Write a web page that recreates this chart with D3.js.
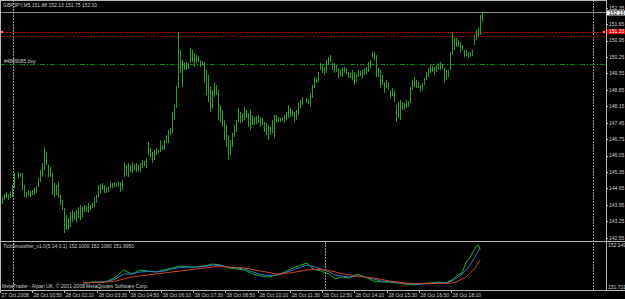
<!DOCTYPE html>
<html>
<head>
<meta charset="utf-8">
<script src="https://cdn.jsdelivr.net/npm/d3@7"></script>
<style>
  html, body { margin: 0; padding: 0; background: #000; }
  svg { display: block; }
  text { font-family: "Liberation Sans", Arial, sans-serif; font-size: 5px; fill: #cfcfcf; }
</style>
</head>
<body>
<div id="chart"></div>
<script>
// GBPJPY M5 bars, first bar 27 Oct 2008 23:30, one bar every 5 minutes
var firstBar = "2008-10-27T23:30";
var barMinutes = 5;

var barHigh = [
  144.16,144.28,144.41,144.50,144.41,144.50,144.80,145.31,145.35,145.31,
  145.31,144.80,144.50,144.58,144.54,144.58,144.67,144.75,145.09,145.43,
  145.73,146.41,146.20,145.65,145.56,145.31,144.88,144.80,144.92,144.37,
  144.16,143.81,143.52,143.39,143.64,143.73,143.64,143.73,143.86,143.94,
  143.86,143.94,143.90,144.03,143.94,144.03,144.28,144.37,144.80,144.84,
  144.88,144.80,144.71,144.75,144.92,144.88,144.92,144.88,144.92,144.92,
  145.01,145.77,145.65,145.73,145.65,145.77,145.69,145.73,145.65,145.73,
  145.86,145.82,145.95,146.63,146.37,146.20,146.29,146.37,146.29,146.71,
  146.50,146.71,146.92,147.14,147.22,147.91,148.20,149.01,151.31,150.55,
  150.12,149.99,150.04,149.99,150.63,150.55,150.42,150.33,150.29,150.12,
  150.08,150.04,149.70,149.48,148.97,148.84,149.18,149.06,148.84,148.20,
  147.99,147.56,147.35,146.92,146.71,147.01,147.35,147.56,148.08,147.91,
  147.86,148.12,147.99,147.86,147.99,147.78,147.69,147.73,147.78,147.69,
  147.65,147.48,147.44,147.35,147.27,147.56,147.78,147.78,147.69,147.65,
  147.69,147.78,147.91,148.20,148.08,147.99,147.91,147.99,148.29,148.42,
  148.55,148.50,148.46,148.72,149.06,149.40,149.35,149.61,149.99,149.91,
  149.82,150.12,150.25,150.33,149.99,149.99,149.91,149.78,149.70,149.78,
  149.82,149.78,149.61,149.57,149.70,149.61,149.52,149.70,149.65,149.70,
  149.78,149.82,150.04,150.12,150.46,150.46,150.33,149.78,149.70,149.48,
  149.18,149.27,149.18,148.84,148.93,148.84,148.20,148.33,148.42,148.33,
  148.29,148.42,148.37,148.97,149.27,149.40,149.27,149.18,149.06,149.14,
  149.35,149.61,149.78,149.91,149.87,149.82,149.91,149.99,150.04,149.95,
  149.78,149.70,149.70,150.46,151.31,151.06,151.06,150.97,150.89,150.76,
  150.55,150.55,150.46,150.46,150.55,151.19,151.40,151.49,152.04,152.13
];
var barLow = [
  143.90,143.99,144.16,144.24,144.16,144.24,144.28,144.67,145.09,145.14,
  144.58,144.28,144.24,144.33,144.28,144.37,144.37,144.45,144.71,144.92,
  145.14,145.43,145.65,145.14,145.14,144.37,144.28,144.37,144.28,143.94,
  143.73,142.75,142.88,142.88,143.00,143.22,143.30,143.22,143.39,143.30,
  143.43,143.64,143.64,143.60,143.73,143.81,143.86,144.03,144.28,144.45,
  144.58,144.45,144.45,144.50,144.67,144.67,144.71,144.71,144.75,144.50,
  144.58,145.14,145.22,145.14,145.35,145.31,145.43,145.35,145.39,145.35,
  145.52,145.60,145.52,146.07,145.95,145.73,145.86,146.07,146.16,146.20,
  146.29,146.29,146.58,146.58,146.92,147.01,147.56,148.08,148.93,149.57,
  148.97,149.70,149.70,149.74,149.99,150.04,149.82,149.99,150.04,149.82,
  149.87,149.18,148.63,148.33,147.91,148.08,148.55,148.63,147.56,147.48,
  147.27,146.71,146.41,145.86,146.07,146.41,146.84,147.05,147.48,147.44,
  147.48,147.56,147.65,147.27,147.14,147.35,147.35,147.39,147.44,147.27,
  147.35,147.05,146.92,146.71,146.92,147.01,146.80,147.44,147.48,147.48,
  147.52,147.44,147.56,147.65,147.69,147.73,147.48,147.56,147.78,148.08,
  148.20,148.29,148.25,148.12,148.50,148.93,149.14,149.18,149.70,149.57,
  149.48,149.57,149.91,150.04,149.70,149.57,149.61,149.35,149.44,149.40,
  149.57,149.52,149.35,149.35,149.27,149.06,149.18,149.40,149.44,149.35,
  149.48,149.52,149.61,149.78,150.21,150.12,149.40,149.40,148.93,149.06,
  148.72,148.93,148.84,148.50,148.59,148.33,147.48,147.65,147.56,147.99,
  147.99,148.08,148.12,148.29,148.84,148.97,148.93,148.93,148.76,148.84,
  149.06,149.27,149.40,149.57,149.61,149.48,149.61,149.70,149.70,149.74,
  149.18,149.27,149.40,149.70,150.33,150.55,150.68,150.68,150.46,150.55,
  150.25,150.29,150.21,150.25,150.29,150.76,150.97,151.10,151.19,151.75
];

// price levels drawn across the chart
var bidPrice = 152.13;
var targetPrice = 151.33;
var stopPrice = 151.14;
var buyPrice = 149.99;
var buyLabel = "#4809085 buy";

var priceTicks = [152.35,151.65,150.95,150.25,149.55,148.85,148.15,147.45,146.75,146.05,145.35,144.65,143.95,143.25,142.55];

var timeTicks = ["2008-10-27T23:30","2008-10-28T00:50","2008-10-28T02:10","2008-10-28T03:30","2008-10-28T04:50",
  "2008-10-28T06:10","2008-10-28T07:30","2008-10-28T08:50","2008-10-28T10:10","2008-10-28T11:30",
  "2008-10-28T12:50","2008-10-28T14:10","2008-10-28T15:30","2008-10-28T16:50","2008-10-28T18:10"];
var timeLabels = ["27 Oct 2008","28 Oct 00:50","28 Oct 02:10","28 Oct 03:30","28 Oct 04:50",
  "28 Oct 06:10","28 Oct 07:30","28 Oct 08:50","28 Oct 10:10","28 Oct 11:30",
  "28 Oct 12:50","28 Oct 14:10","28 Oct 15:30","28 Oct 16:50","28 Oct 18:10"];

// TickSmoother indicator, sampled at bar indexes
var indBars = [41,45,49,53,57,61,65,69,73,77,81,85,89,93,97,101,105,109,113,117,
  121,125,129,133,137,141,145,149,152,155,159,163,166,169,173,177,181,185,189,193,
  197,201,205,209,213,217,221,224,227,229,231,233,235,236,237,238];
var indRaw = [151.775,151.784,151.784,151.794,151.833,151.901,151.862,151.901,151.891,151.882,
  151.901,151.921,151.940,151.930,151.930,151.940,151.959,151.950,151.921,151.911,
  151.901,151.862,151.843,151.833,151.853,151.882,151.921,151.950,151.969,151.911,
  151.891,151.862,151.814,151.833,151.823,151.862,151.833,151.794,151.784,151.784,
  151.775,151.765,151.755,151.770,151.775,151.784,151.775,151.804,151.853,151.872,
  151.979,152.027,152.096,152.134,152.144,152.100];
var indFast = [151.775,151.780,151.784,151.789,151.814,151.862,151.862,151.882,151.887,151.882,
  151.891,151.911,151.925,151.930,151.930,151.935,151.950,151.945,151.930,151.921,
  151.911,151.882,151.857,151.848,151.853,151.872,151.901,151.930,151.950,151.935,
  151.911,151.882,151.853,151.843,151.833,151.843,151.833,151.814,151.794,151.789,
  151.780,151.770,151.765,151.765,151.770,151.775,151.775,151.794,151.833,151.862,
  151.901,151.950,152.018,152.047,152.086,152.108];
var indSlow = [151.775,151.780,151.780,151.784,151.794,151.814,151.833,151.843,151.853,151.862,
  151.872,151.882,151.891,151.901,151.911,151.921,151.930,151.935,151.930,151.925,
  151.921,151.906,151.891,151.877,151.862,151.867,151.877,151.891,151.901,151.906,
  151.906,151.896,151.882,151.867,151.853,151.843,151.833,151.823,151.809,151.794,
  151.784,151.775,151.770,151.770,151.770,151.770,151.770,151.775,151.794,151.814,
  151.833,151.872,151.911,151.940,151.974,151.995];
var indMin = 151.731, indMax = 152.149;
var indTitle = "TickSmoother_v1.0(5,14,0.1) 152.1000 152.1080 151.9950";
var chartTitle = "GBPJPY,M5  151.88 152.13 151.75 152.10";
var footer = "MetaTrader - Alpari UK, \u00a9 2001-2008 MetaQuotes Software Corp.";

var W = 625, H = 299;
var axisX = 606, mainBottom = 241, indBottom = 290;

var parseTime = d3.utcParse("%Y-%m-%dT%H:%M");
var t0 = parseTime(firstBar);
function barTime(i) { return d3.utcMinute.offset(t0, i * barMinutes); }

var svg = d3.select("#chart").append("svg").attr("width", W).attr("height", H);
svg.append("rect").attr("width", W).attr("height", H).attr("fill", "#000");

var x = d3.scaleUtc().domain([t0, parseTime("2008-10-29T00:00")]).range([0.9, 593]);
var y = d3.scaleLinear().domain([142.55, 152.35]).range([237.7, 7.7]);
var yInd = d3.scaleLinear().domain([indMin, indMax]).range([287.5, 244.5]);

function px(t) { return Math.round(x(t)) + 0.5; }
// thin coloured marks keep their colour best on even pixel rows/columns
function even(v) { return Math.round(v / 2) * 2 + 0.5; }

// day separators
var days = d3.utcDay.range(d3.utcMinute.offset(t0, 1), parseTime("2008-10-29T00:01"));
svg.append("g").selectAll("line").data(days).enter().append("line")
  .attr("x1", px).attr("x2", px)
  .attr("y1", 0).attr("y2", indBottom)
  .attr("stroke", "#9a9a9a").attr("stroke-dasharray", "2,1");

// indicator-window dotted marker
svg.append("line")
  .attr("x1", px(parseTime("2008-10-28T12:55"))).attr("x2", px(parseTime("2008-10-28T12:55")))
  .attr("y1", mainBottom + 1).attr("y2", indBottom)
  .attr("stroke", "#9a9a9a").attr("stroke-dasharray", "2,1");

// horizontal levels
function level(p, color, dash) {
  var yy = even(y(p));
  var l = svg.append("line").attr("x1", 0).attr("x2", axisX).attr("y1", yy).attr("y2", yy)
    .attr("stroke", color).attr("stroke-width", 1);
  if (dash) l.attr("stroke-dasharray", dash);
  return yy;
}
level(bidPrice, "#8c8c8c");
var yTarget = level(targetPrice, "#b00000", "2,1");
level(stopPrice, "#800000", "5,2,1,2");
var yBuy = level(buyPrice, "#0c860c", "5,2,1,2");

svg.append("text").attr("x", 4).attr("y", yBuy - 1.5).text(buyLabel);
[1, axisX - 3].forEach(function (mx) {
  svg.append("rect").attr("x", mx).attr("y", yTarget - 1.5).attr("width", 2).attr("height", 2)
    .attr("fill", "#fff").attr("stroke", "#e00000").attr("stroke-width", 0.6);
});

// price bars
var bars = barHigh.map(function (h, i) { return { t: barTime(i), high: h, low: barLow[i] }; });
svg.append("g").selectAll("line").data(bars).enter().append("line")
  .attr("x1", function (d) { return even(x(d.t)); })
  .attr("x2", function (d) { return even(x(d.t)); })
  .attr("y1", function (d) { return y(d.high); })
  .attr("y2", function (d) { return Math.max(y(d.low), y(d.high) + 1); })
  .attr("stroke", "#21a521").attr("stroke-width", 1);

// indicator lines
function indLine(values, color) {
  var pts = indBars.map(function (b, i) { return [x(barTime(b)), yInd(values[i])]; });
  svg.append("path").attr("d", d3.line()(pts))
    .attr("fill", "none").attr("stroke", color).attr("stroke-width", 1);
}
indLine(indRaw, "#22b322");
indLine(indFast, "#2f7ad6");
indLine(indSlow, "#cc4422");

// frame
var frame = svg.append("g").attr("stroke", "#b8b8b8").attr("stroke-width", 1);
frame.append("line").attr("x1", 0).attr("x2", axisX).attr("y1", 0.5).attr("y2", 0.5);
frame.append("line").attr("x1", 0.5).attr("x2", 0.5).attr("y1", 0).attr("y2", indBottom);
frame.append("line").attr("x1", axisX + 0.5).attr("x2", axisX + 0.5).attr("y1", 0).attr("y2", indBottom);
frame.append("line").attr("x1", 0).attr("x2", W).attr("y1", mainBottom + 0.5).attr("y2", mainBottom + 0.5);
frame.append("line").attr("x1", 0).attr("x2", W).attr("y1", indBottom + 0.5).attr("y2", indBottom + 0.5);

// price axis
var pAxis = svg.append("g");
pAxis.selectAll("line").data(priceTicks).enter().append("line")
  .attr("x1", axisX).attr("x2", axisX + 2)
  .attr("y1", function (d) { return Math.round(y(d)) + 0.5; })
  .attr("y2", function (d) { return Math.round(y(d)) + 0.5; })
  .attr("stroke", "#b8b8b8");
pAxis.selectAll("text").data(priceTicks).enter().append("text")
  .attr("x", axisX + 3).attr("y", function (d) { return y(d) + 1.8; })
  .text(function (d) { return d.toFixed(2); });

// bid and target price boxes
svg.append("rect").attr("x", axisX + 1).attr("y", y(bidPrice) - 2.4).attr("width", W - axisX - 1).attr("height", 5)
  .attr("fill", "#f2f2f2");
svg.append("text").attr("x", axisX + 3).attr("y", y(bidPrice) + 1.8).style("fill", "#000").text(bidPrice.toFixed(2));
svg.append("rect").attr("x", axisX + 1).attr("y", y(targetPrice) - 2.4).attr("width", W - axisX - 1).attr("height", 5)
  .attr("fill", "#e00000");
svg.append("text").attr("x", axisX + 3).attr("y", y(targetPrice) + 1.8).style("fill", "#fff").text(targetPrice.toFixed(2));

// indicator scale
svg.append("text").attr("x", axisX + 2).attr("y", 246.8).text(indMax.toFixed(3));
svg.append("text").attr("x", axisX + 2).attr("y", 288.8).text(indMin.toFixed(3));

// time axis
var tAxis = svg.append("g");
timeTicks.forEach(function (s, i) {
  var tx = i === 0 ? 0.5 : px(parseTime(s)) - 1;
  tAxis.append("line").attr("x1", tx).attr("x2", tx).attr("y1", indBottom).attr("y2", indBottom + 3)
    .attr("stroke", "#b8b8b8");
  tAxis.append("text").attr("x", tx + 1).attr("y", 296.5).text(timeLabels[i]);
});

// captions
svg.append("text").attr("x", 3).attr("y", 7).text(chartTitle);
svg.append("text").attr("x", 3).attr("y", 247.5).text(indTitle);
svg.append("text").attr("x", 2).attr("y", 287.8).text(footer);
</script>
</body>
</html>
